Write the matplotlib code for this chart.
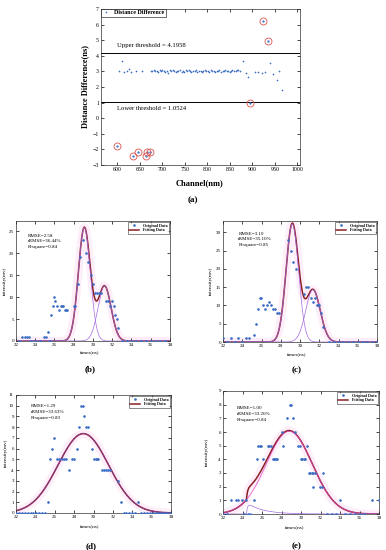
import numpy as np
import matplotlib
matplotlib.use("Agg")
import matplotlib.pyplot as plt

plt.rcParams['font.family'] = ['Liberation Serif', 'DejaVu Serif']
plt.rcParams['mathtext.fontset'] = 'stix'

W, H = 386, 550

# ---------------- Panel (a) data ----------------
ch_normal = [605, 610, 616, 621, 627, 631, 641, 655,
             675, 678, 681, 684, 688, 691, 694, 697, 700,
             704, 707, 710, 713, 717, 720, 723, 726, 730,
             733, 736, 739, 743, 746, 749, 752, 756, 759,
             762, 765, 769, 772, 775, 778, 782, 785, 788,
             791, 795, 798, 801, 804, 808, 811, 814, 817,
             821, 824, 827, 830, 834, 837, 840, 843, 847,
             850, 853, 856, 860, 863, 866, 869, 873,
             880, 885, 891, 906, 913, 921, 928, 939, 945, 956, 960, 965]
diff_normal = [3.00, 3.66, 2.95, 3.05, 3.18, 2.95, 3.05, 3.05,
               3.05, 3.02, 3.08, 3.00, 3.04, 2.98, 3.06, 3.03, 3.10, 3.01,
               2.97, 3.05, 2.88, 3.07, 3.04, 3.12, 3.02, 2.96, 3.05, 3.01,
               3.08, 2.99, 3.03, 2.95, 3.06, 3.02, 3.09, 3.00, 2.97, 3.04,
               3.01, 3.07, 2.99, 3.03, 3.05, 2.98, 3.02, 3.06, 3.00, 3.04,
               2.97, 3.08, 3.01, 3.03, 2.99, 3.05, 3.02, 3.07, 2.98, 3.04,
               3.01, 3.06, 3.00, 3.03, 2.99, 3.05, 3.08, 3.02, 3.04, 3.10,
               3.06, 3.03,
               3.66, 2.88, 2.62, 2.98, 2.95, 2.92, 2.95, 3.56, 2.85, 2.43, 3.00, 1.82]
ch_outlier = [600, 636, 647, 664, 667, 673, 894, 924, 936]
diff_outlier = [-1.80, -2.41, -2.14, -2.41, -2.19, -2.14, 0.98, 6.26, 4.92]
upper_threshold = 4.1958
lower_threshold = 1.0524

# ---------------- Panels (b)-(e) data ----------------
b_t = [22.3, 22.6, 22.9, 23.1, 23.3, 23.6, 24.0, 24.5, 24.9, 25.1, 25.3, 25.5, 25.6, 25.8, 25.9,
       26.1, 26.3, 26.5, 26.7, 26.8, 26.9, 27.1, 27.2, 27.3, 28.0, 28.1, 28.4, 28.7, 28.95,
       29.3, 29.5, 29.8, 30.05, 30.2, 30.4, 30.6, 30.8, 31.4, 31.6, 31.8, 32.0, 32.2, 32.3,
       32.5, 32.6, 33.0, 33.5, 34.0, 34.5, 35.0, 35.5, 36.0, 36.5, 37.0, 37.5]
b_v = [0, 1, 1, 1, 1, 0, 0, 0, 1, 1, 2, 0, 6, 8, 10,
       9, 8, 7, 8, 8, 8, 7, 7, 7, 8, 8, 13, 19, 23,
       20, 18, 15, 13, 11, 11, 11, 11, 9, 9, 8, 9, 8, 6,
       5, 3, 0, 0, 0, 0, 0, 0, 0, 0, 0, 0]
b_amp = [25.8, 12.5]
b_cen = [29.1, 31.2]
b_sig = [0.62, 0.68]
b_stats = ["RMSE=2.58", "rRMSE=36.44%", "R-square=0.84"]

c_t = [22.0, 22.4, 22.8, 23.2, 23.6, 24.0, 24.4, 24.65, 25.2, 25.4, 25.6, 25.8, 25.95, 26.2, 26.4,
       26.6, 26.8, 27.0, 27.2, 27.4, 27.6, 27.8, 28.8, 29.1, 29.3, 29.55, 30.4, 30.6, 30.8,
       31.1, 31.4, 31.6, 31.8, 31.9, 32.0, 32.2, 32.4, 33.0, 33.5, 34.0, 34.5, 35.0, 35.5,
       36.0, 36.5, 37.0, 37.5, 38.0]
c_v = [1, 0, 1, 0, 1, 0, 1, 1, 2, 5, 9, 12, 12, 10, 9,
       10, 11, 10, 9, 9, 8, 8, 28, 25, 22, 20, 13, 15, 15,
       12, 11, 12, 10, 10, 10, 8, 4, 0, 0, 0, 0, 0, 0,
       0, 0, 0, 0, 0]
c_amp = [32.3, 14.3]
c_cen = [29.2, 31.35]
c_sig = [0.65, 0.75]
c_stats = ["RMSE=3.10", "rRMSE=35.10%", "R-square=0.85"]

d_t = [22.0, 22.3, 22.6, 22.9, 23.2, 23.5, 23.8, 24.1, 24.4, 24.7, 25.0, 25.3, 25.5, 25.7, 25.96,
       26.2, 26.4, 26.7, 27.0, 27.2, 27.5, 27.8, 28.0, 28.3, 28.5, 28.7, 28.9, 29.0, 29.2,
       29.4, 29.8, 30.1, 30.25, 30.4, 30.5, 30.9, 31.1, 31.3, 31.5, 31.7, 32.5, 32.8,
       33.1, 33.4, 33.7, 34.0, 34.3, 34.6, 34.9, 35.2, 35.5, 35.8, 36.1, 36.4, 36.7, 37.0,
       37.3, 37.6, 37.9]
d_v = [0, 0, 0, 0, 0, 0, 0, 0, 0, 0, 0, 1, 5, 6, 7,
       5, 5, 5, 5, 5, 4, 5, 5, 6, 8, 10, 10, 9, 8,
       8, 6, 5, 5, 5, 5, 4, 4, 4, 4, 4, 3, 1,
       0, 0, 0, 0, 0, 1, 0, 0, 0, 0, 0, 0, 0, 0,
       0, 0, 0]
d_amp = [7.4]
d_cen = [28.95]
d_sig = [2.6]
d_stats = ["RMSE=1.29", "rRMSE=33.63%", "R-square=0.83"]

e_t = [22.0, 22.4, 22.86, 23.3, 23.5, 23.9, 24.2, 24.4, 24.6, 24.8, 25.2, 25.5, 25.6, 25.75, 25.9,
       26.1, 26.6, 26.75, 26.9, 27.1, 27.2, 27.3, 27.4, 27.5, 28.06, 28.2, 28.6, 28.9, 29.0,
       29.2, 29.4, 29.7, 29.85, 30.0, 30.15, 30.3, 30.45, 30.6, 30.8, 30.95, 31.1, 31.2, 31.25,
       31.4, 31.9, 32.2, 32.25, 32.7, 33.2, 33.6, 34.0, 34.5, 35.0, 35.5, 36.0, 36.5, 37.3, 38.0]
e_v = [0, 0, 1, 1, 1, 1, 0, 1, 0, 0, 1, 4, 5, 5, 5,
       4, 5, 5, 5, 4, 4, 4, 4, 4, 6, 5, 7, 8, 8,
       7, 6, 5, 5, 4, 4, 4, 4, 5, 3, 3, 3, 2, 3,
       3, 2, 2, 3, 0, 0, 0, 1, 0, 0, 0, 0, 0, 1, 1]
e_amp = 6.05
e_cen = 28.8
e_sig = 2.35
e_small_amp = 0.85
e_small_onset = 24.4
e_small_tau = 1.6
e_stats = ["RMSE=1.00", "rRMSE=33.20%", "R-square=0.84"]

time_ticks = [22, 24, 26, 28, 30, 32, 34, 36, 38]

# ---------------- helpers ----------------
fig = plt.figure(figsize=(W / 100, H / 100), dpi=100)


def add_ax(left, top, right, bottom):
    return fig.add_axes([left / W, 1 - bottom / H, (right - left) / W, (bottom - top) / H])


def ftext(x, y, s, **kw):
    fig.text(x / W, 1 - y / H, s, ha='center', va='center', **kw)


def style(ax, fs):
    ax.tick_params(direction='in', top=True, right=True, labelsize=fs, length=2, width=0.5, pad=1.5)
    for sp in ax.spines.values():
        sp.set_linewidth(0.5)
        sp.set_color('#333333')


def gauss(t, a, c, s):
    return a * np.exp(-(t - c) ** 2 / (2 * s ** 2))


BLUE = '#3f6fc4'
FITC = '#8b1f24'
COMPC = '#a56be0'
PINK = '#fdeef9'

# ---------------- Panel (a) ----------------
axa = add_ax(101, 9, 300, 165)
style(axa, 4.2)
axa.axhline(upper_threshold, color='k', lw=0.7)
axa.axhline(lower_threshold, color='k', lw=0.7)
axa.plot(ch_normal, diff_normal, '+', color=BLUE, ms=1.8, mew=0.45, label='Distance Difference')
axa.plot(ch_outlier, diff_outlier, '.', color=BLUE, ms=1.3)
axa.plot(ch_outlier, diff_outlier, 'o', mfc='none', mec='#d9534f', ms=5, mew=0.6)
axa.set_xlim(564, 1006)
axa.set_ylim(-3, 7)
axa.set_xticks([600, 650, 700, 750, 800, 850, 900, 950, 1000])
axa.set_yticks(list(range(-3, 8)))
axa.text(600, upper_threshold + 0.45, 'Upper threshold = 4.1958', fontsize=4.8, va='center', ha='left')
axa.text(600, lower_threshold - 0.45, 'Lower threshold = 1.0524', fontsize=4.8, va='center', ha='left')
leg = axa.legend(loc='upper left', prop={'weight': 'bold', 'size': 4.3}, frameon=True,
                 fancybox=False, borderpad=0.2, handlelength=1.2, borderaxespad=0.0, handletextpad=0.8)
leg.get_frame().set_linewidth(0.5)
leg.get_frame().set_edgecolor('k')
ftext(200, 183, 'Channel(nm)', fontsize=6, fontweight='bold')
ftext(85, 87, 'Distance Difference(ns)', fontsize=6, fontweight='bold', rotation=90)
ftext(193, 200, '(a)', fontsize=6.5, fontweight='bold')


def fit_panel(ax, t_obs, v_obs, comps, total, tt, ylim, yticks, stats, stat_pos, comp_colors):
    style(ax, 3.6)
    ax.plot(tt, total, color=PINK, lw=6, solid_capstyle='butt', zorder=1)
    ax.plot(t_obs, v_obs, marker=(6, 2, 0), ls='none', color=BLUE, ms=1.9, mew=0.35, zorder=3,
            label='Original Data')
    ax.plot(tt, total, color=FITC, lw=1.1, zorder=2, label='Fitting Data')
    for comp, cc in zip(comps, comp_colors):
        ax.plot(tt, comp, color=cc, lw=0.5, zorder=2.5)
    ax.set_xlim(22, 38)
    ax.set_ylim(*ylim)
    ax.set_xticks(time_ticks)
    ax.set_yticks(yticks)
    x0, ys = stat_pos
    for s, y in zip(stats, ys):
        ax.text(x0, y, s, fontsize=3.6, va='center', ha='left')
    lg = ax.legend(loc='upper right', prop={'weight': 'bold', 'size': 3.0}, frameon=True, fancybox=False,
                   borderpad=0.3, handlelength=2.5, borderaxespad=0.3, labelspacing=0.2, handletextpad=0.8)
    lg.get_frame().set_linewidth(0.4)
    lg.get_frame().set_edgecolor('k')


tt = np.linspace(22, 38, 800)

# (b)
axb = add_ax(16, 221, 170, 341)
b_comps = [gauss(tt, a, c, s) for a, c, s in zip(b_amp, b_cen, b_sig)]
fit_panel(axb, b_t, b_v, b_comps, sum(b_comps), tt, (0, 27.3), [0, 5, 10, 15, 20, 25],
          b_stats, (23.2, [24.0, 22.7, 21.4]), [COMPC, COMPC])
ftext(90, 352, 'times(ns)', fontsize=3.8)
ftext(5, 281, 'intensity(mv)', fontsize=3.8, rotation=90)
ftext(90, 369, '(b)', fontsize=6.5, fontweight='bold')

# (c)
axc = add_ax(223, 221, 377, 342)
c_comps = [gauss(tt, a, c, s) for a, c, s in zip(c_amp, c_cen, c_sig)]
fit_panel(axc, c_t, c_v, c_comps, sum(c_comps), tt, (0, 33.1), [0, 5, 10, 15, 20, 25, 30],
          c_stats, (23.6, [29.6, 28.1, 26.6]), [COMPC, COMPC])
ftext(297, 354, 'times(ns)', fontsize=3.8)
ftext(211, 281, 'intensity(mv)', fontsize=3.8, rotation=90)
ftext(297, 370, '(c)', fontsize=6.5, fontweight='bold')

# (d)
axd = add_ax(16, 395, 171, 513)
d_comps = [gauss(tt, a, c, s) for a, c, s in zip(d_amp, d_cen, d_sig)]
fit_panel(axd, d_t, d_v, d_comps + [np.zeros_like(tt)], sum(d_comps), tt, (0, 11), list(range(0, 12)),
          d_stats, (23.5, [10.0, 9.45, 8.9]), ['#8a3fb0', COMPC])
ftext(90, 526, 'times(ns)', fontsize=3.8)
ftext(6, 453, 'intensity(mv)', fontsize=3.8, rotation=90)
ftext(91, 546, '(d)', fontsize=6.5, fontweight='bold')

# (e)
axe = add_ax(223, 391, 379, 514)
e_main = gauss(tt, e_amp, e_cen, e_sig)
dt = np.clip(tt - e_small_onset, 0, None)
e_small = e_small_amp * (1 - np.exp(-dt / 0.12)) * np.exp(-dt / e_small_tau)
fit_panel(axe, e_t, e_v, [e_main, e_small], e_main + e_small, tt, (0, 9), list(range(0, 10)),
          e_stats, (23.45, [7.73, 7.34, 6.9]), ['#e048c8', COMPC])
ftext(295, 527, 'times(ns)', fontsize=3.8)
ftext(207, 452, 'intensity(mv)', fontsize=3.8, rotation=90)
ftext(297, 546, '(e)', fontsize=6.5, fontweight='bold')

fig.savefig('out.png', dpi=100)
